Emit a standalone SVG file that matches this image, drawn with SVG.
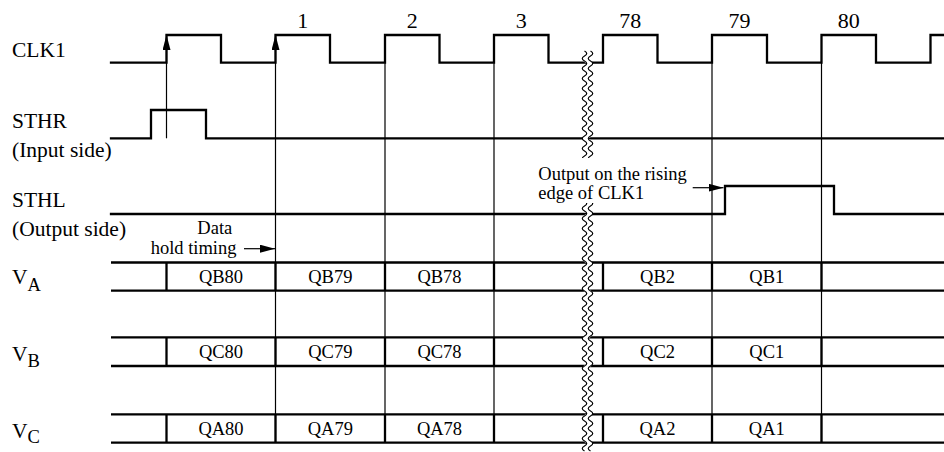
<svg xmlns="http://www.w3.org/2000/svg" xmlns:xlink="http://www.w3.org/1999/xlink" width="944" height="452" viewBox="0 0 944 452" font-family="'Liberation Serif', 'Times New Roman', serif">
<style>
  text { font-family: "Liberation Serif", "Times New Roman", serif; fill: #000; }
  .lbl { font-size: 21.5px; }
  .num { font-size: 22px; }
  .sm { font-size: 18.5px; }
  .mid { text-anchor: middle; }
  .wave { fill: none; stroke: #000; stroke-width: 2.3; stroke-linejoin: miter; stroke-linecap: square; }
  .sep { fill: none; stroke: #000; stroke-width: 2.3; }
  .thin { fill: none; stroke: #000; stroke-width: 1.2; }
  .brk { fill: none; stroke: #000; stroke-width: 1.2; }
  .brkw { fill: none; stroke: #fff; stroke-width: 5; }
</style>
<defs>
  <marker id="ah" markerUnits="userSpaceOnUse" markerWidth="15" markerHeight="8" refX="15" refY="4" orient="auto">
    <path d="M0,0 L15,4 L0,8 z" fill="#000"/>
  </marker>
  <path id="wv" d="M0,51 q4.5,2.5 0,5 t0,5 t0,5 t0,5 t0,5 t0,5 t0,5 t0,5 t0,5 t0,5 t0,5 t0,5 t0,5 t0,5 t0,5 t0,5 t0,5 t0,5 t0,5 t0,5 t0,5 t0,5 t0,5 t0,5 t0,5 t0,5 t0,5 t0,5 t0,5 t0,5 t0,5 t0,5 t0,5 t0,5 t0,5 t0,5 t0,5 t0,5 t0,5 t0,5 t0,5 t0,5 t0,5 t0,5 t0,5 t0,5 t0,5 t0,5 t0,5 t0,5 t0,5 t0,5 t0,5 t0,5 t0,5 t0,5 t0,5 t0,5 t0,5 t0,5 t0,5 t0,5 t0,5 t0,5 t0,5 t0,5 t0,5 t0,5 t0,5 t0,5 t0,5 t0,5 t0,5 t0,5 t0,5 t0,5 t0,5 t0,5 t0,5 t0,5"/>
</defs>
<rect width="944" height="452" fill="#fff"/>

<g id="cycle-numbers">
  <text class="num mid" x="302.8" y="27.5">1</text>
  <text class="num mid" x="412.3" y="27.5">2</text>
  <text class="num mid" x="521.3" y="27.5">3</text>
  <text class="num mid" x="630.3" y="27.5">78</text>
  <text class="num mid" x="739.5" y="27.5">79</text>
  <text class="num mid" x="848.8" y="27.5">80</text>
</g>

<g id="clk1">
  <text class="lbl" x="12" y="57">CLK1</text>
  <path class="wave" d="M111,62.7 H166.5 V35 H221 V62.7 H275.5 V35 H330 V62.7 H385 V35 H439.5 V62.7 H494 V35 H548.5 V62.7 H603 V35 H657.5 V62.7 H712 V35 H767 V62.7 H821.5 V35 H876 V62.7 H930.5 V35 H946"/>
</g>

<g id="sthr">
  <text class="lbl" x="12" y="128">STHR</text>
  <text class="lbl" x="12" y="157">(Input side)</text>
  <path class="wave" d="M111,138.3 H151 V110 H206 V138.3 H946"/>
</g>

<g id="sthl">
  <text class="lbl" x="12" y="206.5">STHL</text>
  <text class="lbl" x="12" y="236">(Output side)</text>
  <path class="wave" d="M111,214 H725 V186 H834 V214 H946"/>
</g>

<g id="va">
  <text class="lbl" x="12" y="283.5">V<tspan class="sm" y="290.5">A</tspan></text>
  <path class="sep" d="M111,262.5 H946 M111,290.7 H946 M166.5,262.5 V290.7 M275.5,262.5 V290.7 M385,262.5 V290.7 M494,262.5 V290.7 M603,262.5 V290.7 M712,262.5 V290.7 M821.5,262.5 V290.7"/>
  <text class="sm mid" x="221" y="282.8">QB80</text>
  <text class="sm mid" x="330.3" y="282.8">QB79</text>
  <text class="sm mid" x="439.5" y="282.8">QB78</text>
  <text class="sm mid" x="657.5" y="282.8">QB2</text>
  <text class="sm mid" x="766.8" y="282.8">QB1</text>
</g>

<g id="vb">
  <text class="lbl" x="12" y="360.5">V<tspan class="sm" y="366.5">B</tspan></text>
  <path class="sep" d="M111,337.4 H946 M111,366 H946 M166.5,337.4 V366 M275.5,337.4 V366 M385,337.4 V366 M494,337.4 V366 M603,337.4 V366 M712,337.4 V366 M821.5,337.4 V366"/>
  <text class="sm mid" x="221" y="357.9">QC80</text>
  <text class="sm mid" x="330.3" y="357.9">QC79</text>
  <text class="sm mid" x="439.5" y="357.9">QC78</text>
  <text class="sm mid" x="657.5" y="357.9">QC2</text>
  <text class="sm mid" x="766.8" y="357.9">QC1</text>
</g>

<g id="vc">
  <text class="lbl" x="12" y="437.5">V<tspan class="sm" y="443">C</tspan></text>
  <path class="sep" d="M111,414.3 H946 M111,442.7 H946 M166.5,414.3 V442.7 M275.5,414.3 V442.7 M385,414.3 V442.7 M494,414.3 V442.7 M603,414.3 V442.7 M712,414.3 V442.7 M821.5,414.3 V442.7"/>
  <text class="sm mid" x="221" y="434.7">QA80</text>
  <text class="sm mid" x="330.3" y="434.7">QA79</text>
  <text class="sm mid" x="439.5" y="434.7">QA78</text>
  <text class="sm mid" x="657.5" y="434.7">QA2</text>
  <text class="sm mid" x="766.8" y="434.7">QA1</text>
</g>

<g id="connectors">
  <path class="thin" d="M166.5,138.3 V35" marker-end="url(#ah)"/>
  <path class="thin" d="M275.5,442.7 V35" marker-end="url(#ah)"/>
  <path class="thin" d="M385,62.7 V442.7 M494,62.7 V442.7 M712,62.7 V442.7 M821.5,62.7 V442.7"/>
  <path class="thin" d="M244,248.7 H275" marker-end="url(#ah)"/>
  <path class="thin" d="M692.7,187.7 H723.5" marker-end="url(#ah)"/>
</g>

<g id="break">
  <use xlink:href="#wv" href="#wv" class="brkw" x="587.5"/>
  <use xlink:href="#wv" href="#wv" class="brk" x="584.5"/>
  <use xlink:href="#wv" href="#wv" class="brk" x="590.5"/>
</g>

<g id="annotations">
  <rect x="578" y="158" width="18" height="45" fill="#fff"/>
  <text class="sm" x="538.3" y="179.5">Output on the rising</text>
  <text class="sm" x="538.3" y="198.5">edge of CLK1</text>
  <text class="sm mid" x="214.8" y="234">Data</text>
  <text class="sm" x="150.7" y="254">hold timing</text>
</g>
</svg>
